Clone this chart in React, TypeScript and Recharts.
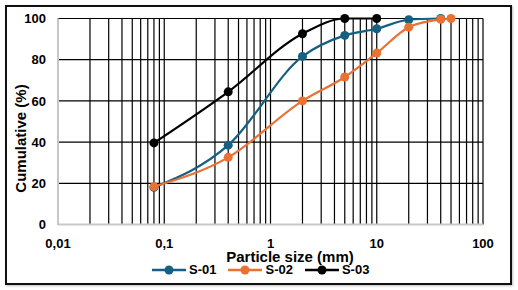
import React from 'react';
import { LineChart, Line, XAxis, YAxis, CartesianGrid, Legend, Label } from 'recharts';

// ---- Data ----
const sizesS01 = [0.08, 0.4, 2, 5, 10, 20, 40];
const valuesS01 = [18, 38.5, 81.6, 91.8, 95, 99.4, 100];
const sizesS02 = [0.08, 0.4, 2, 5, 10, 20, 40, 50];
const valuesS02 = [18.4, 32.6, 60, 71.6, 83.2, 95.8, 99.6, 100];
const sizesS03 = [0.08, 0.4, 2, 5, 10];
const valuesS03 = [39.6, 64.4, 92.6, 100, 100];

const seriesNames = ['S-01', 'S-02', 'S-03'];
const seriesColors = ['#156082', '#E97132', '#000000'];

const xTicks = [
  0.01, 0.02, 0.03, 0.04, 0.05, 0.06, 0.07, 0.08, 0.09,
  0.1, 0.2, 0.3, 0.4, 0.5, 0.6, 0.7, 0.8, 0.9,
  1, 2, 3, 4, 5, 6, 7, 8, 9,
  10, 20, 30, 40, 50, 60, 70, 80, 90,
  100,
];
const decadeValues = [0.01, 0.1, 1, 10, 100];
const decadeLabels = ['0,01', '0,1', '1', '10', '100'];
const yTicks = [0, 20, 40, 60, 80, 100];

const xTitle = 'Particle size (mm)';
const yTitle = 'Cumulative (%)';

const toRows = (xs: number[], ys: number[]) => xs.map((x, i) => ({ size: x, value: ys[i] }));
const dataS01 = toRows(sizesS01, valuesS01);
const dataS02 = toRows(sizesS02, valuesS02);
const dataS03 = toRows(sizesS03, valuesS03);
const allData = [dataS01, dataS02, dataS03];

const FONT = '"Liberation Sans", Arial, sans-serif';

const fmtX = (v: number) => {
  const i = decadeValues.findIndex((d) => Math.abs(d - v) < 1e-9);
  return i >= 0 ? decadeLabels[i] : '';
};

const LegendContent = () => (
  <div
    style={{
      width: 518,
      height: 16,
      display: 'flex',
      alignItems: 'center',
      paddingLeft: 152,
      boxSizing: 'border-box',
      fontFamily: FONT,
      fontWeight: 700,
      fontSize: 13,
      color: '#000',
    }}
  >
    {seriesNames.map((n, i) => (
      <div key={n} style={{ display: 'flex', alignItems: 'center', marginRight: 12 }}>
        <svg width={34} height={12} style={{ display: 'block' }}>
          <line x1={0} x2={34} y1={6} y2={6} stroke={seriesColors[i]} strokeWidth={2.5} />
          <circle cx={17} cy={6} r={4.5} fill={seriesColors[i]} />
        </svg>
        <span style={{ marginLeft: 3, lineHeight: '16px' }}>{n}</span>
      </div>
    ))}
  </div>
);

export default function App() {
  return (
    <div style={{ position: 'absolute', left: 0, top: 0, width: 518, height: 290, background: '#fff' }}>
      <div
        style={{
          position: 'absolute',
          left: 5,
          top: 5,
          width: 507,
          height: 280,
          boxSizing: 'border-box',
          border: '2px solid #111',
          boxShadow: '1px 1px 2px rgba(0,0,0,0.25)',
        }}
      />
      <div style={{ position: 'absolute', left: 0, top: 0 }}>
        <LineChart
          width={518}
          height={290}
          margin={{ top: 18.5, right: 35, left: 0, bottom: 12 }}
        >
          <CartesianGrid stroke="#000" strokeWidth={1.2} />
          <XAxis
            type="number"
            dataKey="size"
            scale="log"
            domain={[0.01, 100]}
            ticks={xTicks}
            interval={0}
            tickFormatter={fmtX}
            tickLine={false}
            tickSize={6}
            tickMargin={8.5}
            height={37.5}
            axisLine={{ stroke: '#c8c8c8', strokeWidth: 2 }}
            tick={{ fill: '#000', fontFamily: FONT, fontWeight: 700, fontSize: 13 }}
            allowDuplicatedCategory={false}
          >
            <Label
              value={xTitle}
              position="insideBottom"
              offset={0}
              dx={19.5}
              style={{ fill: '#000', fontFamily: FONT, fontWeight: 700, fontSize: 15 }}
            />
          </XAxis>
          <YAxis
            type="number"
            domain={[0, 100]}
            ticks={yTicks}
            interval={0}
            width={58}
            tickLine={false}
            tickSize={6}
            tickMargin={6}
            axisLine={{ stroke: '#c8c8c8', strokeWidth: 2 }}
            tick={{ fill: '#000', fontFamily: FONT, fontWeight: 700, fontSize: 13 }}
          >
            <Label
              content={() => (
                <text
                  x={20}
                  y={138.5}
                  transform="rotate(-90 20 138.5)"
                  textAnchor="middle"
                  dominantBaseline="central"
                  style={{ fill: '#000', fontFamily: FONT, fontWeight: 700, fontSize: 15 }}
                >
                  {yTitle}
                </text>
              )}
            />
          </YAxis>
          <Legend
            verticalAlign="bottom"
            align="left"
            content={LegendContent}
            wrapperStyle={{ left: 0, width: 518 }}
          />
          {allData.map((d, i) => (
            <Line
              key={seriesNames[i]}
              data={d}
              dataKey="value"
              name={seriesNames[i]}
              type="monotone"
              stroke={seriesColors[i]}
              strokeWidth={2.2}
              dot={{ r: 4.5, fill: seriesColors[i], stroke: seriesColors[i], strokeWidth: 0 }}
              activeDot={false}
              isAnimationActive={false}
            />
          ))}
        </LineChart>
      </div>
    </div>
  );
}
